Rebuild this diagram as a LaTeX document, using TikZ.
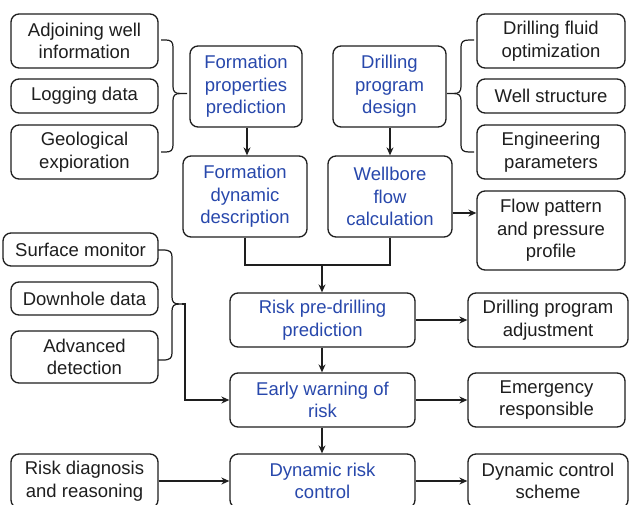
\documentclass[tikz,border=0pt]{standalone}
\usepackage{fontspec}
\setmainfont{Liberation Sans}
\usetikzlibrary{arrows.meta}
\definecolor{myblue}{RGB}{40,72,172}
\definecolor{mydark}{RGB}{30,30,30}
\tikzset{
  box/.style={draw=mydark, line width=1.3pt, rounded corners=8pt, align=center,
    inner sep=0pt, text=mydark, font=\fontsize{18.5}{22.5}\selectfont},
  bluebox/.style={box, text=myblue},
  conn/.style={draw=mydark, line width=1.2pt},
  arr/.style={conn, -{Stealth[length=8pt,width=7pt]}},
}
\newcommand{\bx}[6]{\node[#1, minimum width=#4pt, minimum height=#5pt] (#2) at (#3) {#6};}
% brace: #1 end x, #2 vertical x, #3 tip x, #4 top y, #5 mid y, #6 bottom y, #7 sign (+1 right, -1 left)
\newcommand{\mybrace}[7]{%
  \draw[conn] (#1,#4) -- ({#1+#7*5},#4) .. controls ({#2-#7*2},#4) and (#2,{#4+2}) .. (#2,{#4+7})
    -- (#2,{#5-7}) .. controls (#2,{#5-2}) and ({#2+#7*2},#5) .. ({#2+#7*7},#5) -- (#3,#5);
  \draw[conn] ({#2+#7*7},#5) .. controls ({#2+#7*2},#5) and (#2,{#5+2}) .. (#2,{#5+7})
    -- (#2,{#6-7}) .. controls (#2,{#6-2}) and ({#2-#7*2},#6) .. ({#1+#7*5},#6) -- (#1,#6);
}
\begin{document}
\begin{tikzpicture}[x=1pt,y=-1pt]
\clip (0,0) rectangle (629,504);
\fill[white] (0,0) rectangle (629,504);
% left top column
\bx{box}{adj}{84.5,41}{147}{54}{Adjoining well\\information}
\bx{box}{log}{84.5,96}{147}{34}{Logging data}
\bx{box}{geo}{84.5,152}{147}{54}{Geological\\expioration}
% center top
\bx{bluebox}{fpp}{246,86.5}{112}{81}{Formation\\properties\\prediction}
\bx{bluebox}{fdd}{245,196.5}{124}{81}{Formation\\dynamic\\description}
\bx{bluebox}{dpd}{389.5,86.5}{113}{81}{Drilling\\program\\design}
\bx{bluebox}{wfc}{390,196.5}{124}{81}{Wellbore\\flow\\calculation}
% right top column
\bx{box}{dfo}{551,41}{148}{54}{Drilling fluid\\optimization}
\bx{box}{ws}{551,96}{148}{34}{Well structure}
\bx{box}{ep}{551,152}{148}{54}{Engineering\\parameters}
\bx{box}{fpr}{551,230.5}{148}{79}{Flow pattern\\and pressure\\profile}
% lower left
\bx{box}{surf}{80.5,249.5}{155}{33}{Surface monitor}
\bx{box}{down}{84.5,298.5}{147}{33}{Downhole data}
\bx{box}{adv}{84.5,357}{147}{52}{Advanced\\detection}
\bx{box}{rdr}{84.5,481}{147}{54}{Risk diagnosis\\and reasoning}
% center lower
\bx{bluebox}{rpp}{322.5,320}{185}{54}{Risk pre-drilling\\prediction}
\bx{bluebox}{ewr}{322.5,400}{185}{54}{Early warning of\\risk}
\bx{bluebox}{drc}{322.5,481}{185}{54}{Dynamic risk\\control}
% right lower
\bx{box}{dpa}{548,320}{160}{54}{Drilling program\\adjustment}
\bx{box}{er}{546.5,400}{157}{54}{Emergency\\responsible}
\bx{box}{dcs}{548,481}{160}{54}{Dynamic control\\scheme}
% braces
\mybrace{161}{173}{187}{40}{93.5}{152}{1}
\mybrace{474}{461}{447}{40}{93.5}{152}{-1}
\mybrace{158}{172}{182}{250}{304}{360}{1}
% connectors
\draw[arr] (fpp.south -| 247,0) -- (fdd.north -| 247,0);
\draw[arr] (dpd.south -| 390,0) -- (wfc.north -| 390,0);
\draw[arr] (wfc.east |- 0,213) -- (fpr.west |- 0,213);
\coordinate (join) at (322,265);
\draw[conn] (fdd.south) |- (join);
\draw[conn] (wfc.south) |- (join);
\draw[arr] (join) -- (rpp.north -| join);
\draw[arr] (rpp.south -| join) -- (ewr.north -| join);
\draw[arr] (ewr.south -| join) -- (drc.north -| join);
\draw[arr] (rpp) -- (dpa.west |- rpp);
\draw[arr] (ewr) -- (er.west |- ewr);
\draw[arr] (drc) -- (dcs.west |- drc);
\draw[arr] (rdr) -- (drc.west |- rdr);
\coordinate (btip) at (182,304);
\draw[arr] (btip) -- (185,304) |- (ewr.west);
\end{tikzpicture}
\end{document}
